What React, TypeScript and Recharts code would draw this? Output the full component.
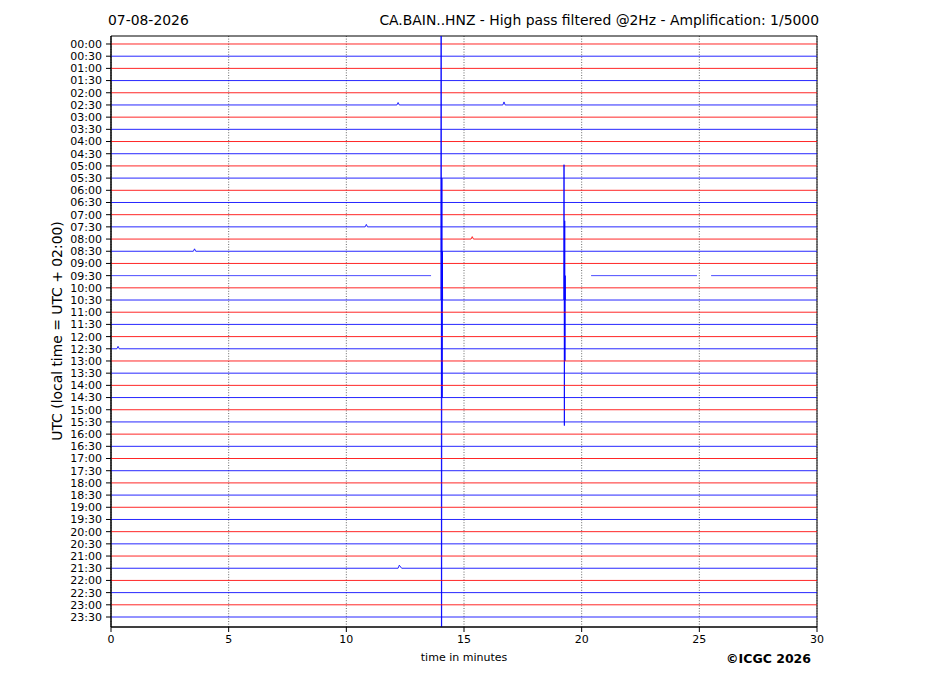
import React from "react";
import { LineChart, Line, XAxis, YAxis, CartesianGrid, ReferenceArea } from "recharts";

// one trace per half hour, 00:00 at the top
const rowLabels = [
  "00:00", "00:30", "01:00", "01:30", "02:00", "02:30", "03:00", "03:30",
  "04:00", "04:30", "05:00", "05:30", "06:00", "06:30", "07:00", "07:30",
  "08:00", "08:30", "09:00", "09:30", "10:00", "10:30", "11:00", "11:30",
  "12:00", "12:30", "13:00", "13:30", "14:00", "14:30", "15:00", "15:30",
  "16:00", "16:30", "17:00", "17:30", "18:00", "18:30", "19:00", "19:30",
  "20:00", "20:30", "21:00", "21:30", "22:00", "22:30", "23:00", "23:30",
];
const rowColors = ["#ff0000", "#0000ff"];
const xTicks = [0, 5, 10, 15, 20, 25, 30];

// [row, minute, deflection in row heights, + = up]
const deflections: [number, number, number][] = [
  // event in the 10:30 trace
  [21, 14.02, 0], [21, 14.03, 55], [21, 14.045, -55], [21, 14.06, 10], [21, 14.07, -8],
  [21, 14.08, 4], [21, 14.09, 0],
  [21, 19.24, 0], [21, 19.25, 11.1], [21, 19.265, -10.3], [21, 19.28, 6.5], [21, 19.29, -5],
  [21, 19.3, 2], [21, 19.31, 0],
  // small blips
  [5, 12.15, 0], [5, 12.2, 0.2], [5, 12.25, 0],
  [5, 16.65, 0], [5, 16.7, 0.25], [5, 16.75, 0],
  [17, 3.5, 0], [17, 3.55, 0.2], [17, 3.6, 0],
  [15, 10.8, 0], [15, 10.85, 0.2], [15, 10.9, 0],
  [16, 15.3, 0], [16, 15.35, 0.2], [16, 15.4, 0],
  [43, 12.2, 0], [43, 12.25, 0.25], [43, 12.35, 0],
  [25, 0.25, 0], [25, 0.3, 0.2], [25, 0.35, 0],
];

// [row, gap start, gap end] in minutes
const gaps: [number, number, number][] = [
  [19, 13.6, 20.4],
  [19, 24.9, 25.5],
];

type Pt = { t: number; v: number | null };

const rows: Pt[][] = rowLabels.map((_, r) => {
  const pts: Pt[] = [
    { t: 0, v: r },
    { t: 30, v: r },
  ];
  deflections
    .filter((d) => d[0] === r)
    .forEach((d) => pts.push({ t: d[1], v: r - d[2] }));
  gaps
    .filter((g) => g[0] === r)
    .forEach((g) => {
      pts.push({ t: g[1], v: r });
      pts.push({ t: (g[1] + g[2]) / 2, v: null });
      pts.push({ t: g[2], v: r });
    });
  return pts.sort((a, b) => a.t - b.t);
});

const font = "DejaVu Sans, sans-serif";
const Y_MIN = -0.656;
const Y_MAX = 47.82;

export default function App() {
  return (
    <div style={{ position: "absolute", left: 0, top: 0, width: 927, height: 696, background: "#fff" }}>
      <LineChart
        width={927}
        height={696}
        margin={{ top: 36, right: 110, bottom: 39, left: 51 }}
      >
        <CartesianGrid
          horizontal={false}
          stroke="#444"
          strokeWidth={0.8}
          strokeDasharray="1 1.6"
        />
        <XAxis
          type="number"
          dataKey="t"
          domain={[0, 30]}
          ticks={xTicks}
          allowDataOverflow
          height={30}
          tickSize={5}
          tickMargin={3}
          axisLine={{ stroke: "#000" }}
          tickLine={{ stroke: "#000" }}
          tick={{ fill: "#000", fontSize: 11, fontFamily: font }}
        />
        <YAxis
          type="number"
          reversed
          domain={[Y_MIN, Y_MAX]}
          allowDataOverflow
          ticks={rowLabels.map((_, i) => i)}
          interval={0}
          tickFormatter={(i: number) => rowLabels[i] ?? ""}
          width={60}
          tickSize={5}
          tickMargin={4}
          axisLine={{ stroke: "#000" }}
          tickLine={{ stroke: "#000" }}
          tick={{ fill: "#000", fontSize: 11, fontFamily: font }}
        />
        {rows.map((data, r) => (
          <Line
            key={rowLabels[r]}
            data={data}
            dataKey="v"
            type="linear"
            stroke={rowColors[r % 2]}
            strokeWidth={1}
            strokeOpacity={r === 19 ? 0.7 : 0.85}
            dot={false}
            activeDot={false}
            isAnimationActive={false}
          />
        ))}
        <ReferenceArea
          x1={0}
          x2={30}
          y1={Y_MIN}
          y2={Y_MAX}
          fill="none"
          stroke="#000"
          strokeWidth={1}
          ifOverflow="visible"
        />
      </LineChart>
      <svg
        width={927}
        height={696}
        style={{ position: "absolute", left: 0, top: 0, pointerEvents: "none" }}
      >
        <text x={108} y={25} fontSize={13.9} fontFamily={font} fill="#000">
          07-08-2026
        </text>
        <text x={819} y={25} fontSize={13.9} fontFamily={font} fill="#000" textAnchor="end">
          CA.BAIN..HNZ - High pass filtered @2Hz - Amplification: 1/5000
        </text>
        <text
          x={62}
          y={331}
          fontSize={13.9}
          fontFamily={font}
          fill="#000"
          textAnchor="middle"
          transform="rotate(-90 62 331)"
        >
          UTC (local time = UTC + 02:00)
        </text>
        <text x={464} y={661} fontSize={11} fontFamily={font} fill="#000" textAnchor="middle">
          time in minutes
        </text>
        <text
          x={811}
          y={663}
          fontSize={12.5}
          fontWeight="bold"
          fontFamily={font}
          fill="#000"
          textAnchor="end"
        >
          ©ICGC 2026
        </text>
      </svg>
    </div>
  );
}
